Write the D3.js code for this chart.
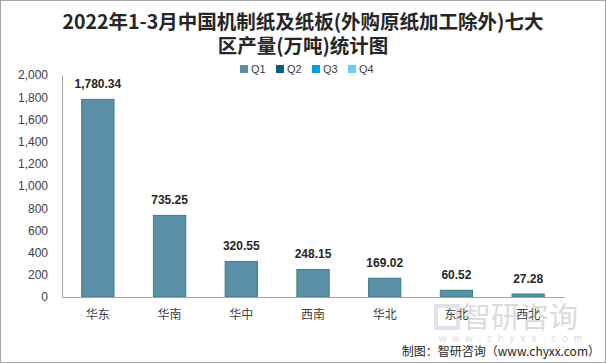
<!DOCTYPE html>
<html>
<head>
<meta charset="utf-8">
<script src="https://cdn.jsdelivr.net/npm/d3@7"></script>
<style>
  body { margin: 0; background: #fff; }
  svg { display: block; font-family: "Liberation Sans", Arial, sans-serif; }
</style>
</head>
<body>
<svg width="606" height="363"></svg>
<script>
// chart data
const regions = ["华东", "华南", "华中", "西南", "华北", "东北", "西北"];
const q1Values = [1780.34, 735.25, 320.55, 248.15, 169.02, 60.52, 27.28];
const legendLabels = ["Q1", "Q2", "Q3", "Q4"];
const legendColors = ["#5b8fa7", "#0b5c7e", "#009fd9", "#6ccff5"];
const yTicks = [0, 200, 400, 600, 800, 1000, 1200, 1400, 1600, 1800, 2000];

const svg = d3.select("svg");
const cjk = "'Noto Sans CJK SC', sans-serif";

// frame
svg.append("rect")
  .attr("x", 0.5).attr("y", 0.5)
  .attr("width", 605).attr("height", 362)
  .attr("fill", "#fff")
  .attr("stroke", "#a6a6a6");

// title
const title = svg.append("text")
  .attr("text-anchor", "middle")
  .attr("font-family", cjk)
  .attr("font-weight", "bold")
  .attr("font-size", 19.5)
  .attr("fill", "#262626");
title.append("tspan").attr("x", 303).attr("y", 29)
  .text("2022年1-3月中国机制纸及纸板(外购原纸加工除外)七大");
title.append("tspan").attr("x", 303).attr("y", 53)
  .text("区产量(万吨)统计图");

// scales
const x = d3.scaleBand()
  .domain(regions)
  .range([62, 564])
  .paddingInner(0.55)
  .paddingOuter(0.275);

const y = d3.scaleLinear()
  .domain([0, 2000])
  .range([297, 75]);

// legend
const legend = svg.append("g")
  .attr("transform", "translate(240, 73)");
legendLabels.forEach((d, i) => {
  const g = legend.append("g").attr("transform", "translate(" + (i * 36) + ", 0)");
  g.append("rect")
    .attr("x", 0).attr("y", -8)
    .attr("width", 8).attr("height", 8)
    .attr("fill", legendColors[i]);
  g.append("text")
    .attr("x", 11).attr("y", 0)
    .attr("font-size", 11)
    .attr("fill", "#404040")
    .text(d);
});

// y axis
const yAxis = svg.append("g")
  .attr("transform", "translate(62, 0)")
  .call(d3.axisLeft(y).tickValues(yTicks).tickSize(0).tickPadding(14).tickFormat(d3.format(",")));
yAxis.select(".domain").attr("stroke", "#a6a6a6");
yAxis.selectAll("text")
  .attr("font-size", 12)
  .attr("font-family", "'Liberation Sans', Arial, sans-serif")
  .attr("fill", "#404040");

// bars
svg.selectAll(".bar")
  .data(q1Values)
  .enter()
  .append("rect")
  .attr("class", "bar")
  .attr("x", (d, i) => x(regions[i]))
  .attr("y", d => y(d))
  .attr("width", x.bandwidth())
  .attr("height", d => y(0) - y(d))
  .attr("fill", legendColors[0])
  .attr("stroke", "#3a8080")
  .attr("stroke-width", 1);

// value labels
svg.selectAll(".value")
  .data(q1Values)
  .enter()
  .append("text")
  .attr("class", "value")
  .attr("x", (d, i) => x(regions[i]) + x.bandwidth() / 2)
  .attr("y", d => y(d) - 11)
  .attr("text-anchor", "middle")
  .attr("font-size", 12)
  .attr("font-weight", "bold")
  .attr("fill", "#262626")
  .text(d => d3.format(",.2f")(d));

// x axis
const xAxis = svg.append("g")
  .attr("transform", "translate(0, 297)")
  .call(d3.axisBottom(x).tickSize(0).tickPadding(13));
xAxis.select(".domain").attr("stroke", "#a6a6a6");
xAxis.selectAll("text")
  .attr("font-size", 12)
  .attr("font-family", cjk)
  .attr("fill", "#404040");

// watermark
const mark = svg.append("g").attr("opacity", 0.3);
mark.append("rect")
  .attr("x", 436).attr("y", 306)
  .attr("width", 22).attr("height", 22)
  .attr("fill", "none")
  .attr("stroke", "#9aa6c0")
  .attr("stroke-width", 4);
mark.append("text")
  .attr("x", 462).attr("y", 328)
  .attr("font-family", cjk)
  .attr("font-size", 29)
  .attr("fill", "#8a8a8a")
  .text("智研咨询");
mark.append("text")
  .attr("x", 439).attr("y", 342)
  .attr("font-size", 10)
  .attr("letter-spacing", 6)
  .attr("fill", "#8a8a8a")
  .text("www.chyxx.com");

// footer
svg.append("text")
  .attr("x", 600).attr("y", 356)
  .attr("text-anchor", "end")
  .attr("font-family", cjk)
  .attr("font-size", 12)
  .attr("fill", "#262626")
  .text("制图：智研咨询（www.chyxx.com）");
</script>
</body>
</html>
